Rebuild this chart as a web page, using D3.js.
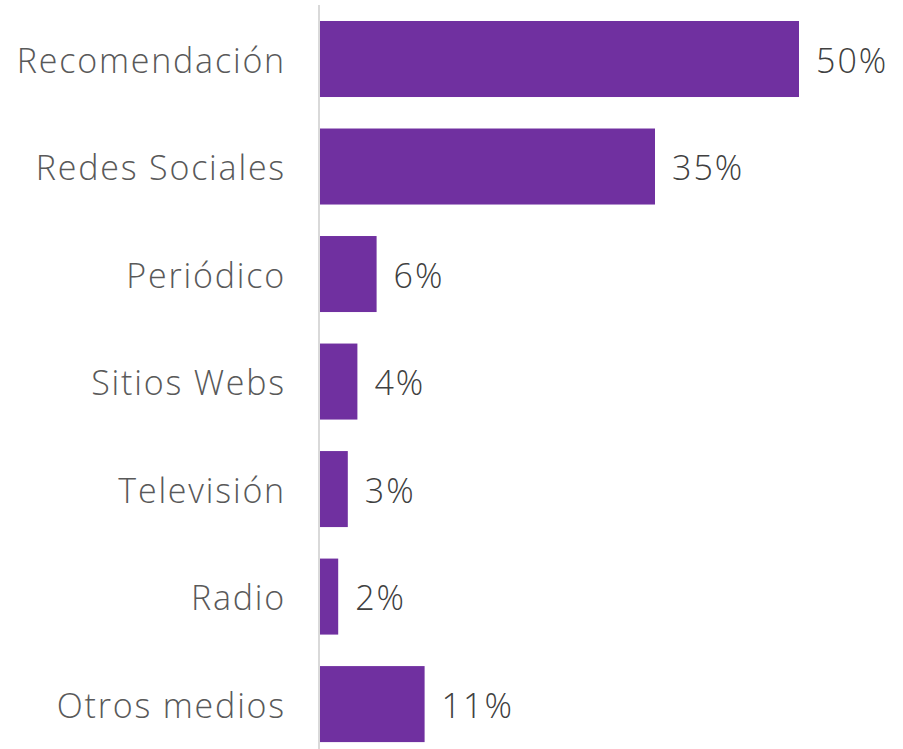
<!doctype html>
<html lang="es">
<head>
<meta charset="UTF-8">
<title>Medios</title>
<script src="https://d3js.org/d3.v7.min.js"></script>
<style>
  body { margin: 0; background: #fff; }
  text { font-family: "Open Sans", sans-serif; }
</style>
</head>
<body>
<div id="chart"></div>
<script>
const categories = ['Recomendación', 'Redes Sociales', 'Periódico', 'Sitios Webs', 'Televisión', 'Radio', 'Otros medios']
const values = [50, 35, 6, 4, 3, 2, 11]

const width = 903, height = 749
const x0 = 319

const svg = d3.select('#chart').append('svg')
    .attr('width', width)
    .attr('height', height)

const xScale = d3.scaleLinear()
    .domain([0, 50])
    .range([x0, 799])

const yScale = d3.scaleBand()
    .domain(categories)
    .range([5.3, 757.8])
    .paddingInner(0.293)
    .paddingOuter(0.146)

// bars
svg.selectAll('rect.bar')
    .data(values)
    .enter()
    .append('rect')
    .attr('class', 'bar')
    .attr('x', xScale(0))
    .attr('y', (d, i) => yScale(categories[i]))
    .attr('width', d => xScale(d) - xScale(0))
    .attr('height', yScale.bandwidth())
    .style('fill', '#7030A0')

// axis line
svg.append('line')
    .attr('x1', x0).attr('x2', x0)
    .attr('y1', 5).attr('y2', height)
    .style('stroke', '#d9d9d9')
    .style('stroke-width', 2)

// category labels
svg.selectAll('text.cat')
    .data(categories)
    .enter()
    .append('text')
    .attr('class', 'cat')
    .attr('x', 286)
    .attr('y', d => yScale(d) + yScale.bandwidth() / 2)
    .attr('dy', '0.4em')
    .attr('text-anchor', 'end')
    .style('font-size', '34px')
    .style('font-weight', 300)
    .style('letter-spacing', '1.8px')
    .style('fill', '#595959')
    .text(d => d)

// value labels
svg.selectAll('text.val')
    .data(values)
    .enter()
    .append('text')
    .attr('class', 'val')
    .attr('x', d => xScale(d) + 17)
    .attr('y', (d, i) => yScale(categories[i]) + yScale.bandwidth() / 2)
    .attr('dy', '0.4em')
    .style('font-size', '34px')
    .style('font-weight', 300)
    .style('letter-spacing', '2px')
    .style('fill', '#404040')
    .text(d => d + '%')
</script>
</body>
</html>
